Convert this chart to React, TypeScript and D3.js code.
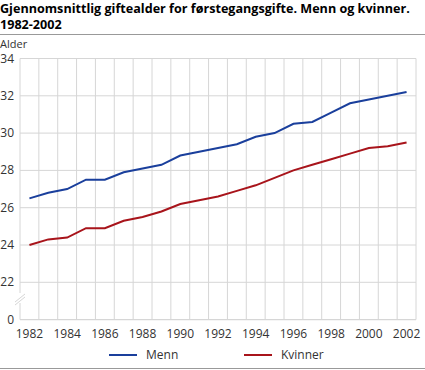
import React from "react";
import * as d3 from "d3";

const years = [1982,1983,1984,1985,1986,1987,1988,1989,1990,1991,1992,1993,1994,1995,1996,1997,1998,1999,2000,2001,2002];
const menn = [26.5,26.8,27.0,27.5,27.5,27.9,28.1,28.3,28.8,29.0,29.2,29.4,29.8,30.0,30.5,30.6,31.1,31.6,31.8,32.0,32.2];
const kvinner = [24.0,24.3,24.4,24.9,24.9,25.3,25.5,25.8,26.2,26.4,26.6,26.9,27.2,27.6,28.0,28.3,28.6,28.9,29.2,29.3,29.5];
const yTicks = [22,24,26,28,30,32,34];
const xTickYears = [1982,1984,1986,1988,1990,1992,1994,1996,1998,2000,2002];
const title1 = "Gjennomsnittlig giftealder for førstegangsgifte. Menn og kvinner.";
const title2 = "1982-2002";

export default function App() {
  const W = 425, H = 370;
  const left = 20, right = 416, top = 58.5, bottom = 319.6;
  const x = d3.scaleBand<number>().domain(years).range([left, right]);
  const y = d3.scaleLinear().domain([20, 34]).range([bottom, top]);
  const cx = (yr: number) => (x(yr) as number) + x.bandwidth() / 2;
  const line = d3.line<number>().x((_, i) => cx(years[i])).y((v) => y(v));
  const font = "'Open Sans', 'DejaVu Sans', sans-serif";
  const grid = "#d6d6d6";
  const blue = "#1a3f9c";
  const red = "#a8141b";
  const boundaries = years.map((yr) => x(yr) as number).concat([right]);
  return (
    <svg width={W} height={H} style={{ position: "absolute", left: 0, top: 0 }} fontFamily={font}>
      <rect width={W} height={H} fill="#fff" />
      <text x={0} y={13} fontSize={12.6} fontWeight="bold" fill="#000">{title1}</text>
      <text x={0} y={29} fontSize={12.6} fontWeight="bold" fill="#000">{title2}</text>
      <line x1={0} x2={W} y1={34.5} y2={34.5} stroke="#999" strokeWidth={1} />
      <text x={0} y={48} fontSize={11} fill="#333">Alder</text>
      {yTicks.map((t) => (
        <line key={"h" + t} x1={left} x2={right} y1={y(t)} y2={y(t)} stroke={grid} strokeWidth={1} />
      ))}
      {boundaries.map((b, i) => (
        <line key={"v" + i} x1={b} x2={b} y1={top} y2={bottom} stroke={grid} strokeWidth={1} />
      ))}
      <line x1={left} x2={right} y1={bottom} y2={bottom} stroke={grid} strokeWidth={1.2} />
      {/* axis break */}
      <rect x={left - 6} y={293} width={12} height={10} fill="#fff" />
      <line x1={left - 5} x2={left + 5} y1={302} y2={294} stroke={grid} strokeWidth={1} />
      <line x1={left - 5} x2={left + 5} y1={305} y2={297} stroke={grid} strokeWidth={1} />
      {yTicks.map((t) => (
        <text key={"yl" + t} x={14} y={y(t) + 4} fontSize={12} textAnchor="end" fill="#333">{t}</text>
      ))}
      <text x={14} y={bottom + 4} fontSize={12} textAnchor="end" fill="#333">0</text>
      {xTickYears.map((yr) => (
        <text key={"xl" + yr} x={cx(yr)} y={338} fontSize={12} textAnchor="middle" fill="#333">{yr}</text>
      ))}
      <path d={line(menn) || ""} fill="none" stroke={blue} strokeWidth={2} />
      <path d={line(kvinner) || ""} fill="none" stroke={red} strokeWidth={2} />
      <line x1={109} x2={137} y1={355} y2={355} stroke={blue} strokeWidth={2} />
      <text x={146} y={359} fontSize={12} fill="#333">Menn</text>
      <line x1={244} x2={272} y1={355} y2={355} stroke={red} strokeWidth={2} />
      <text x={281} y={359} fontSize={12} fill="#333">Kvinner</text>
      <line x1={0} x2={W} y1={368.5} y2={368.5} stroke="#999" strokeWidth={1} />
    </svg>
  );
}
